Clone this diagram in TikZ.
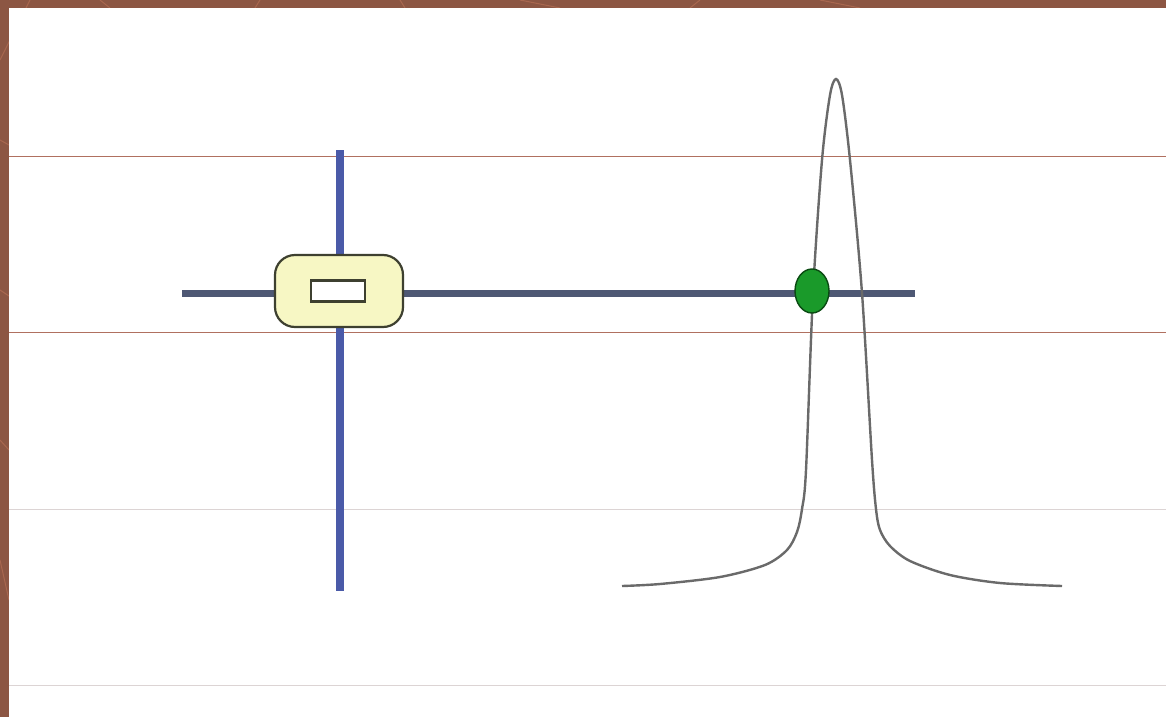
\documentclass[tikz,border=0pt]{standalone}
\usetikzlibrary{shapes.geometric}
\definecolor{bgbrown}{HTML}{8C5643}
\definecolor{bglight}{HTML}{A8674F}
\definecolor{rulebrown}{HTML}{B07060}
\definecolor{rulegray}{HTML}{DCD4D4}
\definecolor{barblue}{HTML}{4A5AA8}
\definecolor{barslate}{HTML}{4E5874}
\definecolor{boxfill}{HTML}{F7F7C4}
\definecolor{boxedge}{HTML}{3E4030}
\definecolor{dotgreen}{HTML}{1A9A2A}
\definecolor{dotedge}{HTML}{0A4A12}
\definecolor{peakgray}{HTML}{6A6A6A}
\tikzset{
  rulered/.style={rulebrown, line width=0.9pt},
  rulelight/.style={rulegray, line width=0.9pt},
  vbar/.style={barblue, line width=8pt, line cap=butt},
  hbar/.style={barslate, line width=7pt, line cap=butt},
  slider/.style={draw=boxedge, fill=boxfill, line width=2.2pt, rounded corners=20pt, minimum width=128pt, minimum height=72pt, inner sep=0pt},
  slot/.style={draw=boxedge, fill=white, line width=2.4pt, minimum width=54pt, minimum height=21pt, inner sep=0pt},
  marker/.style={ellipse, draw=dotedge, fill=dotgreen, line width=1.4pt, minimum width=34pt, minimum height=44pt, inner sep=0pt},
  peak/.style={peakgray, line width=2.4pt}
}
\begin{document}
\begin{tikzpicture}[x=1pt,y=-1pt]
\useasboundingbox (0,0) rectangle (1166,717);
% background
\fill[bgbrown] (0,0) rectangle (1166,717);
\foreach \a/\b in {{(30,0)/(0,60)},{(100,0)/(110,8)},{(260,0)/(255,8)},{(400,0)/(405,8)},{(520,0)/(560,8)},{(700,0)/(690,8)},{(820,0)/(860,8)},{(0,140)/(9,145)},{(0,290)/(9,296)},{(0,440)/(9,450)},{(0,560)/(9,600)}}
  \draw[bglight, line width=1pt] \a -- \b;
\fill[white] (9,8) rectangle (1166,717);
% ruled lines
\draw[rulered] (9,156) -- (1166,156);
\draw[rulered] (9,332) -- (1166,332);
\draw[rulelight] (9,509) -- (1166,509);
\draw[rulelight] (9,685) -- (1166,685);
% bars
\coordinate (vtop) at (340,150);
\coordinate (vbot) at (340,591);
\coordinate (hleft) at (182,293);
\coordinate (hright) at (915,293);
\draw[vbar] (vtop) -- (vbot);
\draw[hbar] (hleft) -- (hright);
% peak curve
\draw[peak] plot[smooth, tension=0.5] coordinates {
  (622,586) (660,584) (720,577) (765,565) (787,550) (797,532) (802,509) (806,470)
  (813,293) (822,160) (830,95) (836,79) (842,95) (850,160)
  (862,293) (872,460) (876,509) (880,530) (890,546) (910,561) (950,575) (1000,583) (1062,586)};
% slider
\node[slider] (box) at (339,291) {};
\node[slot] (slot) at (338,291) {};
% marker
\node[marker] (dot) at (812,291) {};
\end{tikzpicture}
\end{document}
